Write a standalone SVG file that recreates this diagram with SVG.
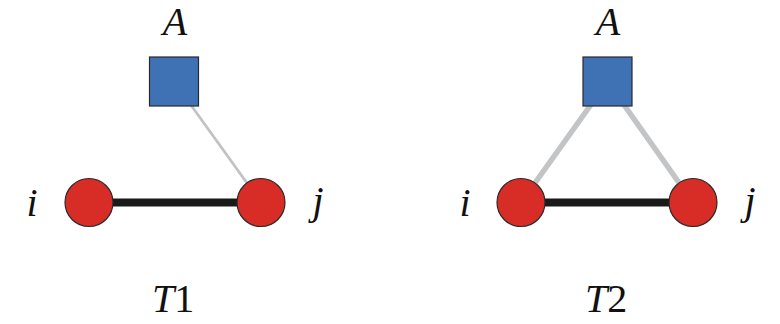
<svg xmlns="http://www.w3.org/2000/svg" width="780" height="324" viewBox="0 0 780 324">
<style>
text{font-family:'Liberation Serif','Times New Roman',serif;font-style:italic;font-size:40px;fill:#111;}
.up{font-style:normal;}
.sq{fill:#3e72b4;stroke:#2a2a2a;stroke-width:1.2;}
.ci{fill:#d82c26;stroke:#2a2a2a;stroke-width:1.2;}
.strong{stroke:#1a1a1a;stroke-width:8;}
.weak1{stroke:#c3c3c3;stroke-width:2.8;}
.weak2{stroke:#c3c4c6;stroke-width:5.5;}
</style>
<rect width="780" height="324" fill="#fff"/>
<g id="connectors">
<line class="strong" x1="89" y1="202.5" x2="261" y2="202.5"/>
<line class="weak1" x1="174" y1="81.5" x2="261" y2="202.5"/>
<line class="strong" x1="521" y1="202.5" x2="693" y2="202.5"/>
<line class="weak2" x1="607.5" y1="81.5" x2="521" y2="202.5"/>
<line class="weak2" x1="607.5" y1="81.5" x2="693" y2="202.5"/>
</g>
<g id="T1-A"><rect class="sq" x="149.5" y="57" width="49" height="49"/><text x="175" y="35" text-anchor="middle">A</text></g>
<g id="T1-i"><circle class="ci" cx="89" cy="202.5" r="24"/><text x="32" y="216" text-anchor="middle">i</text></g>
<g id="T1-j"><circle class="ci" cx="261" cy="202.5" r="24"/><text x="318" y="214" text-anchor="middle">j</text></g>
<g id="T2-A"><rect class="sq" x="583" y="57" width="49" height="49"/><text x="608" y="35" text-anchor="middle">A</text></g>
<g id="T2-i"><circle class="ci" cx="521" cy="202.5" r="24"/><text x="465" y="216" text-anchor="middle">i</text></g>
<g id="T2-j"><circle class="ci" cx="693" cy="202.5" r="24"/><text x="750" y="214" text-anchor="middle">j</text></g>
<text id="T1-label" x="173" y="312" text-anchor="middle">T<tspan class="up">1</tspan></text>
<text id="T2-label" x="606" y="312" text-anchor="middle">T<tspan class="up">2</tspan></text>
</svg>
